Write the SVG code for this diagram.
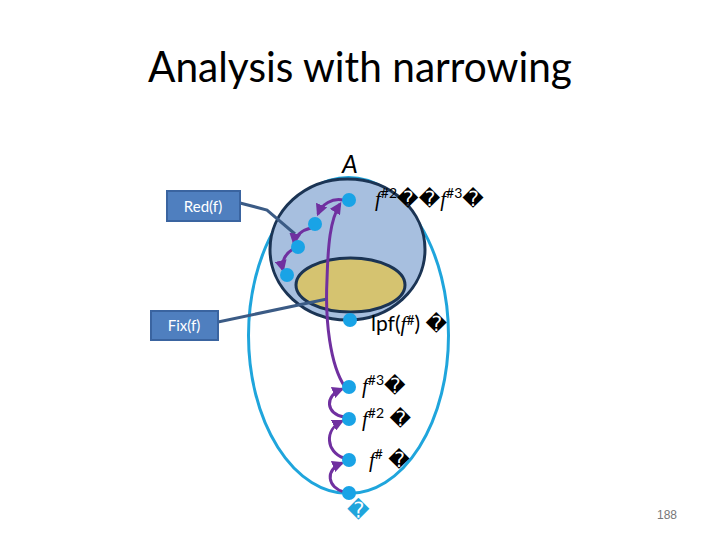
<svg xmlns="http://www.w3.org/2000/svg" width="720" height="540" viewBox="0 0 720 540">
<style>
.title{font-family:Lato,"Liberation Sans",sans-serif;font-size:43px;fill:#000}
.lbl{font-family:Lato,"DejaVu Sans",sans-serif;font-size:21px;fill:#000}
.fi{font-family:"Liberation Serif",serif;font-style:italic}
.box{fill:#4f7fbf;stroke:#3a64a0;stroke-width:2}
.btxt{font-family:Lato,"Liberation Sans",sans-serif;font-size:15px;fill:#fff;text-anchor:middle}
.dot{fill:#19a3e6}
.arc{fill:none;stroke:#7030a0;stroke-width:3}
.conn{fill:none;stroke:#3b5b85;stroke-width:3}
</style>
<defs>
<marker id="ah" viewBox="0 0 10 10" refX="8" refY="5" markerWidth="4" markerHeight="4" orient="auto-start-reverse" markerUnits="strokeWidth">
<path d="M0,0 L10,5 L0,10 z" fill="#7030a0"/>
</marker>
</defs>
<rect width="720" height="540" fill="#fff"/>
<text class="title" x="148" y="82" textLength="424" lengthAdjust="spacingAndGlyphs">Analysis with narrowing</text>

<g id="outer">
<ellipse cx="348.5" cy="335.5" rx="100" ry="158" fill="none" stroke="#1fa5dc" stroke-width="3"/>
</g>
<g id="setA">
<ellipse cx="347.5" cy="249.5" rx="77.5" ry="70.5" fill="#a7bfdf" stroke="#1b3454" stroke-width="3"/>
<text x="350" y="173" font-family="Lato,Liberation Sans,sans-serif" font-size="25" font-style="italic" text-anchor="middle">A</text>
</g>
<g id="fixset">
<ellipse cx="350.5" cy="285" rx="54.5" ry="27" fill="#d5c370" stroke="#1b3454" stroke-width="3"/>
</g>

<g id="connectors">
<polyline class="conn" points="240,203 267,210 295,234"/>
<line class="conn" x1="218" y1="322" x2="327" y2="299"/>
<path class="arc" d="M345,387 C330,365 325,320 327,280 C328,245 330,220 340,204" marker-end="url(#ah)"/>
<path class="arc" d="M343,200 C332,198 322,204 318,214" marker-end="url(#ah)"/>
<path class="arc" d="M311,228 C302,230 295,236 294,243" marker-end="url(#ah)"/>
<path class="arc" d="M293,249 C285,254 281,262 283,270" marker-end="url(#ah)"/>
<path class="arc" d="M344,492 C328,488 324,470 342,463" marker-end="url(#ah)"/>
<path class="arc" d="M344,458 C326,452 324,430 342,421" marker-end="url(#ah)"/>
<path class="arc" d="M344,417 C326,414 324,396 342,389" marker-end="url(#ah)"/>
</g>

<g id="dots">
<circle class="dot" cx="349" cy="200" r="7"/>
<circle class="dot" cx="315" cy="224" r="7"/>
<circle class="dot" cx="298" cy="247" r="7"/>
<circle class="dot" cx="287" cy="275" r="7"/>
<circle class="dot" cx="350" cy="320" r="7"/>
<circle class="dot" cx="349" cy="387" r="7"/>
<circle class="dot" cx="349" cy="419" r="7"/>
<circle class="dot" cx="349" cy="460" r="7"/>
<circle class="dot" cx="349" cy="493" r="7"/>
</g>

<g id="labels">
<text class="lbl" x="375" y="206"><tspan class="fi">f</tspan><tspan font-size="14" dy="-8">#2</tspan><tspan dy="8">��</tspan><tspan class="fi">f</tspan><tspan font-size="14" dy="-8">#3</tspan><tspan dy="8">�</tspan></text>
<text class="lbl" x="371" y="331">lpf(<tspan class="fi">f</tspan><tspan font-size="14" dy="-6">#</tspan><tspan dy="6">) �</tspan></text>
<text class="lbl" x="362" y="393"><tspan class="fi">f</tspan><tspan font-size="14" dy="-8">#3</tspan><tspan dy="8">�</tspan></text>
<text class="lbl" x="362" y="426"><tspan class="fi">f</tspan><tspan font-size="14" dy="-8">#2</tspan><tspan dy="8"> �</tspan></text>
<text class="lbl" x="369" y="467"><tspan class="fi">f</tspan><tspan font-size="14" dy="-8">#</tspan><tspan dy="8"> �</tspan></text>
<text class="lbl" x="347" y="518" style="fill:#1fa5dc;font-size:22px">�</text>
</g>

<g id="red">
<rect class="box" x="167" y="191" width="73" height="30"/>
<text class="btxt" x="203" y="212">Red(f)</text>
</g>
<g id="fix">
<rect class="box" x="151" y="311" width="67" height="29"/>
<text class="btxt" x="184" y="331">Fix(f)</text>
</g>

<text x="667" y="519" font-family="Liberation Sans,sans-serif" font-size="12" fill="#777" text-anchor="middle">188</text>
</svg>
